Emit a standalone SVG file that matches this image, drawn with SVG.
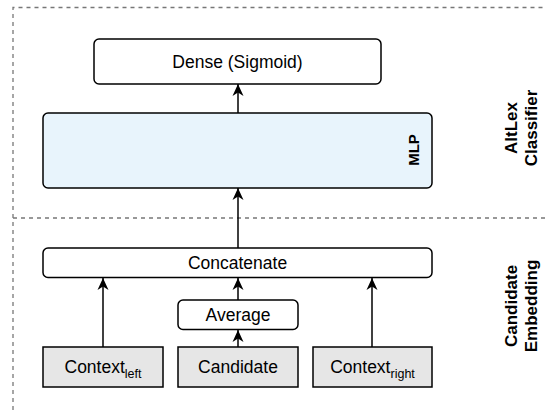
<svg xmlns="http://www.w3.org/2000/svg" width="545" height="410" viewBox="0 0 545 410">
  <style>
    .frame { fill: none; stroke: #777777; stroke-width: 1.3; stroke-dasharray: 4 4; }
    .box { stroke: #000; stroke-width: 1.5; }
    .plain { fill: #ffffff; }
    .mlp { fill: #e8f4fc; }
    .input { fill: #e6e6e6; }
    .lbl { font-family: "Liberation Sans", Arial, sans-serif; font-size: 17.5px; fill: #000; text-anchor: middle; }
    .sub { font-size: 12.5px; }
    .side { font-family: "Liberation Sans", Arial, sans-serif; font-size: 17px; font-weight: bold; fill: #000; text-anchor: middle; }
    .edge { stroke: #000; stroke-width: 1.5; fill: none; marker-end: url(#head); }
  </style>
  <defs>
    <marker id="head" viewBox="0 0 12 12" refX="12" refY="6" markerWidth="13" markerHeight="12" markerUnits="userSpaceOnUse" orient="auto">
      <path d="M0,0.5 L12,6 L0,11.5 L3.5,6 Z" fill="#000"/>
    </marker>
  </defs>

  <!-- section frames -->
  <g id="sections">
    <path class="frame" d="M13,410 L13,7.5 L545,7.5"/>
    <path class="frame" d="M13,218 L545,218"/>
  </g>

  <!-- connectors -->
  <g id="connectors">
    <path class="edge" d="M238,113 L238,84"/>
    <path class="edge" d="M238,248 L238,188"/>
    <path class="edge" d="M103,347 L103,278"/>
    <path class="edge" d="M238,300 L238,278"/>
    <path class="edge" d="M238,347 L238,330"/>
    <path class="edge" d="M372,347 L372,278"/>
  </g>

  <g id="dense">
    <rect class="box plain" x="94" y="39" width="287" height="45" rx="5"/>
    <text class="lbl" x="237.5" y="67.5">Dense (Sigmoid)</text>
  </g>

  <g id="mlp">
    <rect class="box mlp" x="43" y="113" width="389" height="75" rx="5"/>
    <text class="side" transform="translate(419,150) rotate(-90)" style="font-size:15px">MLP</text>
  </g>

  <g id="concatenate">
    <rect class="box plain" x="43" y="248" width="389" height="29.5" rx="5"/>
    <text class="lbl" x="237.5" y="268.5">Concatenate</text>
  </g>

  <g id="average">
    <rect class="box plain" x="178" y="300" width="120" height="29.5" rx="5"/>
    <text class="lbl" x="238" y="320.5">Average</text>
  </g>

  <g id="context-left">
    <rect class="box input" x="43" y="347" width="120" height="40"/>
    <text class="lbl" x="103" y="373">Context<tspan class="sub" dy="5">left</tspan></text>
  </g>

  <g id="candidate">
    <rect class="box input" x="178" y="347" width="120" height="40"/>
    <text class="lbl" x="238" y="373">Candidate</text>
  </g>

  <g id="context-right">
    <rect class="box input" x="313" y="347" width="119" height="40"/>
    <text class="lbl" x="372.5" y="373">Context<tspan class="sub" dy="5">right</tspan></text>
  </g>

  <g id="label-classifier">
    <text class="side" transform="translate(517,128) rotate(-90)">AltLex</text>
    <text class="side" transform="translate(537,128) rotate(-90)">Classifier</text>
  </g>

  <g id="label-embedding">
    <text class="side" transform="translate(517,306) rotate(-90)">Candidate</text>
    <text class="side" transform="translate(537,306) rotate(-90)">Embedding</text>
  </g>
</svg>
